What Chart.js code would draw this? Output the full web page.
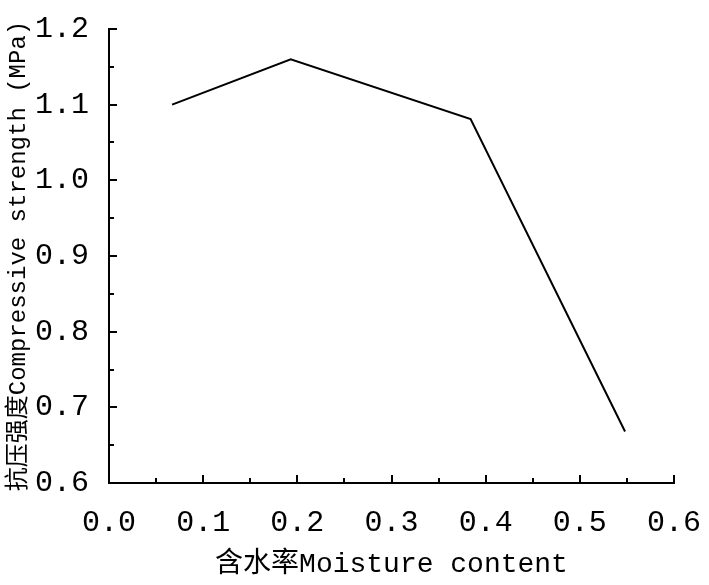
<!DOCTYPE html>
<html>
<head>
<meta charset="utf-8">
<script src="https://cdn.jsdelivr.net/npm/chart.js@4/dist/chart.umd.min.js"></script>
<style>
  html, body { margin: 0; padding: 0; background: #fff; }
  #wrap { width: 709px; height: 585px; }
</style>
</head>
<body>
<div id="wrap"><canvas id="grafico"></canvas></div>
<script>
const moisture = [0.067, 0.193, 0.384, 0.548];
const strength = [1.10, 1.16, 1.081, 0.668];
const xTicks = [0, 0.1, 0.2, 0.3, 0.4, 0.5, 0.6];
const yTicks = [0.6, 0.7, 0.8, 0.9, 1.0, 1.1, 1.2];

const fuente = '"Liberation Mono", "Noto Sans CJK SC", monospace';

// ticks pointing inside the plot, major + minor
const tickInside = {
  id: 'tickInside',
  afterDraw(chart) {
    const c = chart.ctx;
    const xs = chart.scales.x, ys = chart.scales.y;
    const a = chart.chartArea;
    c.save();
    c.strokeStyle = '#000';
    c.lineWidth = 2;
    c.beginPath();
    for (let i = 0; i < xTicks.length; i++) {
      const px = Math.round(xs.getPixelForValue(xTicks[i]));
      c.moveTo(px, a.bottom); c.lineTo(px, a.bottom - 8);
      if (i < xTicks.length - 1) {
        const mx = Math.round(xs.getPixelForValue((xTicks[i] + xTicks[i + 1]) / 2));
        c.moveTo(mx, a.bottom); c.lineTo(mx, a.bottom - 5);
      }
    }
    for (let i = 0; i < yTicks.length; i++) {
      const py = Math.round(ys.getPixelForValue(yTicks[i]));
      c.moveTo(a.left, py); c.lineTo(a.left + 8, py);
      if (i < yTicks.length - 1) {
        const my = Math.round(ys.getPixelForValue((yTicks[i] + yTicks[i + 1]) / 2));
        c.moveTo(a.left, my); c.lineTo(a.left + 5, my);
      }
    }
    c.stroke();
    c.restore();
  }
};

new Chart(document.getElementById('grafico'), {
  type: 'line',
  data: {
    datasets: [{
      data: moisture.map((m, i) => ({ x: m, y: strength[i] })),
      borderColor: '#000',
      borderWidth: 2,
      pointRadius: 0,
      tension: 0,
      fill: false
    }]
  },
  plugins: [tickInside],
  options: {
    responsive: true,
    maintainAspectRatio: false,
    animation: false,
    layout: { padding: { left: 0, right: 35, top: 29, bottom: 0 } },
    plugins: { legend: { display: false }, tooltip: { enabled: false } },
    scales: {
      x: {
        type: 'linear', min: 0, max: 0.6,
        afterBuildTicks: s => { s.ticks = xTicks.map(v => ({ value: v })); },
        afterFit: s => { s.height = 102; s.paddingRight = 0; s.paddingLeft = 0; },
        grid: { display: false },
        border: { display: true, color: '#000', width: 2 },
        ticks: {
          color: '#000', padding: 14, maxRotation: 0,
          font: { family: fuente, size: 30 },
          callback: v => Number(v).toFixed(1)
        },
        title: {
          display: true, text: '含水率Moisture content', color: '#000',
          font: { family: fuente, size: 28 }, padding: { top: 6 }
        }
      },
      y: {
        type: 'linear', min: 0.6, max: 1.2,
        afterBuildTicks: s => { s.ticks = yTicks.map(v => ({ value: v })); },
        afterFit: s => { s.width = 109; s.paddingTop = 0; s.paddingBottom = 0; },
        grid: { display: false },
        border: { display: true, color: '#000', width: 2 },
        ticks: {
          color: '#000', padding: 12,
          font: { family: fuente, size: 30 },
          callback: v => Number(v).toFixed(1)
        },
        title: {
          display: true, text: '抗压强度Compressive strength (MPa)', color: '#000',
          font: { family: fuente, size: 24 }, padding: { top: 4 }
        }
      }
    }
  }
});
</script>
</body>
</html>
